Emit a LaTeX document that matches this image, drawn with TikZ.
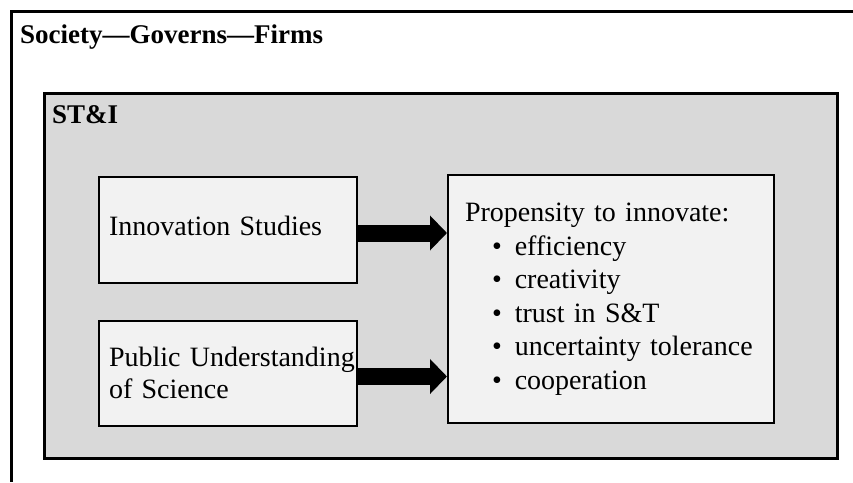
\documentclass[tikz,border=0pt]{standalone}
\usepackage{fontspec}
\setmainfont{Liberation Serif}
\usetikzlibrary{arrows.meta}
\definecolor{stigray}{HTML}{D9D9D9}
\definecolor{boxgray}{HTML}{F2F2F2}
\newcommand\boxfontA{\fontsize{28}{32.5}\selectfont\spaceskip=0.2em\relax\hyphenpenalty=10000\relax}
\newcommand\boxfontB{\fontsize{28}{33.5}\selectfont\spaceskip=0.2em\relax\hyphenpenalty=10000\relax}
\tikzset{
  titletext/.style={anchor=base west, inner sep=0pt, font=\fontsize{27}{32}\selectfont\bfseries},
  innerbox/.style={draw=black, line width=2pt, fill=boxgray, anchor=north west,
     align=left, inner ysep=0pt, font=\boxfontA},
  bigarrow/.style={line width=17pt, -{Triangle[length=17pt,width=34pt]}},
}
\begin{document}
\begin{tikzpicture}[x=1pt,y=1pt]
\useasboundingbox (0,0) rectangle (853,-482);
% outer frame (cropped)
\draw[line width=3pt] (853,-11) -- (11,-11) -- (11,-482);
\node[titletext] (title) at (20,-43) {Society---Governs---Firms};
% ST&I area
\node[draw=black, line width=3pt, fill=stigray, anchor=north west, minimum width=793pt,
      minimum height=365pt, inner sep=0pt] (sti) at (42.5,-91.5) {};
\node[titletext] (stilabel) at (52,-123) {ST\&I};
% boxes
\node[innerbox, text width=238pt, inner xsep=10pt, minimum height=106pt, text depth=8pt] (inn) at (98,-176)
  {Innovation Studies};
\node[innerbox, text width=238pt, inner xsep=10pt, minimum height=105pt, text depth=34pt] (pus) at (98,-320)
  {\mbox{Public Understanding}\\of Science};
\node[innerbox, text width=292pt, inner xsep=17pt, minimum height=248pt,
      font=\boxfontB] (prop) at (447,-174)
  {Propensity to innovate:\\
   \hspace*{27pt}\textbullet\hspace{13pt}efficiency\\
   \hspace*{27pt}\textbullet\hspace{13pt}creativity\\
   \hspace*{27pt}\textbullet\hspace{13pt}trust in S\&T\\
   \hspace*{27pt}\textbullet\hspace{13pt}uncertainty tolerance\\
   \hspace*{27pt}\textbullet\hspace{13pt}cooperation};
% arrows
\draw[bigarrow] ([yshift=-3pt]inn.east) -- ([yshift=-3pt]inn.east -| prop.west);
\draw[bigarrow] ([yshift=-3pt]pus.east) -- ([yshift=-3pt]pus.east -| prop.west);
\end{tikzpicture}
\end{document}
